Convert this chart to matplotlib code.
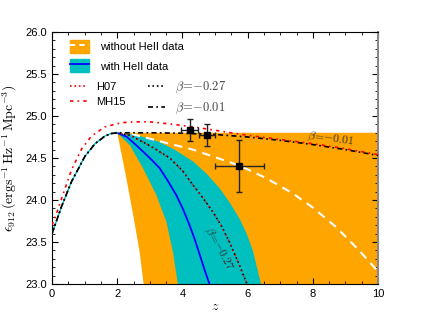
import numpy as np
import matplotlib
matplotlib.use('Agg')
import matplotlib.pyplot as plt
from matplotlib.patches import Patch
from matplotlib.lines import Line2D
from matplotlib.ticker import MultipleLocator

plt.rcParams['font.family'] = ['Liberation Sans', 'DejaVu Sans']
plt.rcParams['mathtext.fontset'] = 'cm'

# rising part below z=2 (shared by both beta models)
low_z = [0.0, 0.29, 0.6, 1.01, 1.32, 1.62, 1.8, 2.0]
low_y = [23.60, 23.92, 24.22, 24.52, 24.67, 24.76, 24.79, 24.80]

# MH15 (red dash-dot)
mh15_z = [0.0, 0.14, 0.35, 0.6, 0.91, 1.21, 1.62, 2.13, 2.54, 3.0, 3.5, 3.93,
          4.5, 5.0, 5.5, 6.0, 7.0, 8.0, 9.0, 10.0]
mh15_y = [23.70, 23.84, 24.08, 24.36, 24.61, 24.76, 24.87, 24.92, 24.93, 24.93,
          24.91, 24.89, 24.86, 24.83, 24.80, 24.77, 24.72, 24.67, 24.61, 24.54]

# beta = -0.27 (also H07 above z=2)
b27_z = [2.0, 2.4, 2.79, 3.2, 3.61, 4.0, 4.32, 4.62, 4.93, 5.2, 5.44, 5.7, 5.95, 6.0]
b27_y = [24.80, 24.77, 24.69, 24.60, 24.50, 24.35, 24.18, 24.03, 23.86, 23.69,
         23.50, 23.27, 23.03, 22.98]

# beta = -0.01
b01_z = [2.0, 3.0, 4.0, 5.0, 6.0, 7.0, 8.0, 9.0, 10.0]
b01_y = [24.80, 24.80, 24.795, 24.78, 24.75, 24.71, 24.66, 24.60, 24.53]

# without HeII data: band and median
org_top_z = [2.0, 10.0]
org_top_y = [24.8, 24.8]
org_lo_z = [2.0, 2.08, 2.28, 2.49, 2.69, 2.81, 2.85, 10.0]
org_lo_y = [24.8, 24.65, 24.26, 23.82, 23.38, 23.0, 22.9, 22.9]
wht_z = [2.0, 2.5, 3.0, 3.5, 4.32, 5.0, 5.75, 6.57, 7.38, 8.0, 8.71, 9.42, 10.0]
wht_y = [24.80, 24.78, 24.73, 24.68, 24.60, 24.51, 24.41, 24.26, 24.08, 23.91,
         23.68, 23.40, 23.15]

# with HeII data: band and median
cy_hi_z = [2.0, 2.5, 3.0, 3.3, 3.8, 4.32, 4.75, 5.14, 5.45, 5.75, 5.97, 6.16, 6.41, 6.45]
cy_hi_y = [24.8, 24.78, 24.73, 24.69, 24.59, 24.46, 24.31, 24.14, 23.97, 23.78,
           23.60, 23.40, 23.0, 22.9]
cy_lo_z = [2.0, 2.15, 2.39, 2.79, 3.2, 3.51, 3.71, 3.86, 3.88]
cy_lo_y = [24.8, 24.74, 24.65, 24.38, 24.06, 23.74, 23.38, 23.0, 22.9]
blue_z = [2.0, 2.3, 2.59, 3.0, 3.3, 3.55, 3.81, 4.02, 4.22, 4.38, 4.53, 4.68, 4.83, 4.86]
blue_y = [24.8, 24.75, 24.65, 24.5, 24.38, 24.23, 24.06, 23.89, 23.70, 23.53,
          23.35, 23.17, 23.0, 22.95]

# measurements
pt_z = [4.22, 4.75, 5.75]
pt_y = [24.83, 24.77, 24.40]
pt_zerr = [0.25, 0.24, 0.75]
pt_yerr = [0.13, 0.13, 0.31]

fig = plt.figure(figsize=(4.21, 3.16), dpi=100)
ax = fig.add_axes([0.1235, 0.101, 0.7745, 0.798])

ax.fill(org_top_z + org_lo_z[::-1], org_top_y + org_lo_y[::-1],
        color='#FFA500', lw=0, zorder=1)
ax.fill(cy_hi_z + cy_lo_z[::-1], cy_hi_y + cy_lo_y[::-1],
        color='#00BFBF', lw=0, zorder=2)
ax.plot(wht_z, wht_y, color='white', ls=(0, (4, 3)), lw=1.5, zorder=3)
ax.plot(blue_z, blue_y, color='#0000FF', lw=1.3, zorder=3)

ax.plot(low_z, low_y, color='#00BFBF', lw=1.0, zorder=3)
ax.plot(low_z + b27_z, low_y + b27_y, color='k', ls=':', lw=1.2, zorder=4)
ax.plot(b27_z, b27_y, color='red', ls=(1, (1, 3)), lw=1.0, zorder=5)
ax.plot(low_z + b01_z, low_y + b01_y, color='k', ls=(0, (3, 2, 1, 2)), lw=1.2, zorder=4)
ax.plot(mh15_z, mh15_y, color='red', ls=(0, (2, 2.5, 1, 2.5)), lw=1.2, zorder=5)

ax.errorbar(pt_z, pt_y, xerr=pt_zerr, yerr=pt_yerr, fmt='s', color='#222222',
            ms=4, mfc='k', mec='k', capsize=2, elinewidth=1, capthick=1, zorder=6)

ax.text(5.12, 23.42, r'$\beta\!=\!{-}0.27$', rotation=-62, fontsize=8.5,
        ha='center', va='center', color='#333333', zorder=7)
ax.text(8.55, 24.72, r'$\beta\!=\!{-}0.01$', rotation=-8, fontsize=8.5,
        ha='center', va='center', color='#333333', zorder=7)

ax.set_xlim(0, 10)
ax.set_ylim(23.0, 26.0)
ax.xaxis.set_major_locator(MultipleLocator(2))
ax.xaxis.set_minor_locator(MultipleLocator(0.5))
ax.yaxis.set_major_locator(MultipleLocator(0.5))
ax.yaxis.set_minor_locator(MultipleLocator(0.1))
ax.yaxis.set_major_formatter(matplotlib.ticker.FormatStrFormatter('%.1f'))
ax.tick_params(which='both', direction='in', top=True, right=True, labelsize=8)
ax.tick_params(which='major', length=4, width=0.8)
ax.tick_params(which='minor', length=2, width=0.6)
ax.spines['right'].set_color('#888888')
ax.spines['right'].set_linewidth(1.5)

ax.set_xlabel(r'$z$', fontsize=10, labelpad=0)
ax.set_ylabel(r'$\epsilon_{912}\,(\mathrm{ergs}^{-1}\,\mathrm{Hz}^{-1}\,\mathrm{Mpc}^{-3})$',
              fontsize=10, labelpad=5)

h1 = (Patch(color='#FFA500'), Line2D([], [], color='white', ls=(0, (2.5, 2)), lw=1.5))
h2 = (Patch(color='#00BFBF'), Line2D([], [], color='#0000FF', lw=1.3))
leg1 = ax.legend([h1, h2], ['without HeII data', 'with HeII data'],
                 loc='upper left', bbox_to_anchor=(0.055, 0.968), frameon=False,
                 borderpad=0, fontsize=8, handlelength=1.75, handleheight=1.45,
                 handletextpad=1.0, labelspacing=0.55, borderaxespad=0)
ax.add_artist(leg1)

hh07 = Line2D([], [], color='red', ls=':', lw=1.2)
hmh = Line2D([], [], color='red', ls=(0, (2, 2.5, 1, 2.5)), lw=1.2)
hb27 = Line2D([], [], color='k', ls=':', lw=1.2)
hb01 = Line2D([], [], color='k', ls=(0, (3, 2, 1, 2)), lw=1.2)
leg2 = ax.legend([hh07, hmh, hb27, hb01],
                 ['H07', 'MH15', r'$\beta\!=\!{-}0.27$', r'$\beta\!=\!{-}0.01$'],
                 loc='upper left', bbox_to_anchor=(0.055, 0.81), frameon=False,
                 borderpad=0, fontsize=8, ncol=2, handlelength=1.5,
                 handletextpad=0.9, labelspacing=0.45, columnspacing=2.0,
                 borderaxespad=0)
for t in leg2.get_texts()[2:]:
    t.set_color('#444444')
    t.set_fontsize(9)

fig.savefig('out.png', dpi=100)
